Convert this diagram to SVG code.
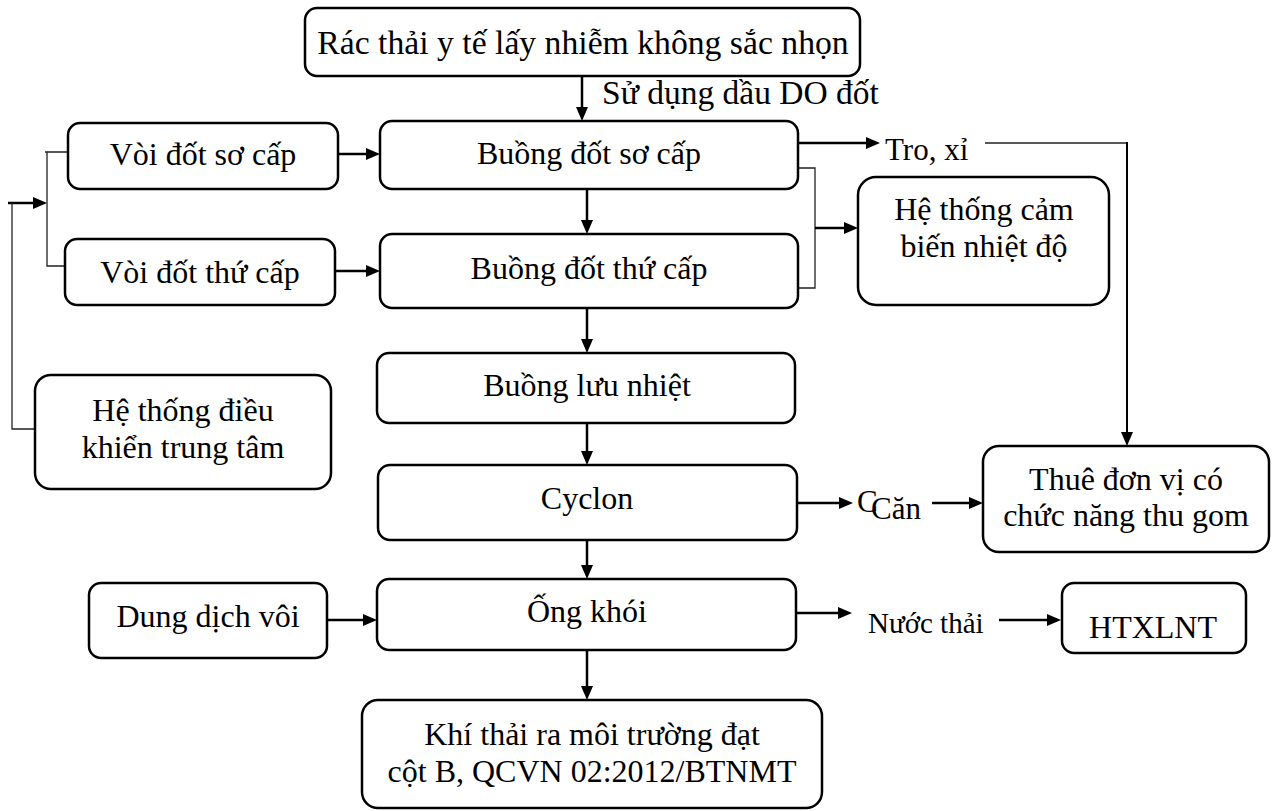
<svg xmlns="http://www.w3.org/2000/svg" width="1275" height="811" viewBox="0 0 1275 811">
<defs>
<marker id="ah" markerUnits="userSpaceOnUse" markerWidth="14" markerHeight="12" refX="2" refY="6" orient="auto">
<path d="M0,0 L14,6 L0,12 z" fill="#000"/>
</marker>
</defs>
<style>
.box{fill:#fff;stroke:#000;stroke-width:2.5}
.t{font-family:"Liberation Serif","Times New Roman",serif;font-size:32px;fill:#000;text-anchor:middle}
.l{font-family:"Liberation Serif","Times New Roman",serif;font-size:31px;fill:#000}
.c{fill:none;stroke:#000;stroke-width:2.5}
.a{fill:none;stroke:#000;stroke-width:2.5;marker-end:url(#ah)}
.thin{fill:none;stroke:#222;stroke-width:1.3}
</style>
<rect width="1275" height="811" fill="#fff"/>
<g id="connectors">
<path class="a" d="M582,76 V109"/>
<path class="a" d="M587,189 V222"/>
<path class="a" d="M587,308 V341"/>
<path class="a" d="M587,423 V453"/>
<path class="a" d="M587,540 V567"/>
<path class="a" d="M587,650 V688"/>
<path class="a" d="M338,154 H368"/>
<path class="a" d="M335,271 H368"/>
<path class="thin" d="M68,152 H45 M47,152 V266 H65"/>
<path class="a" d="M8,203 H35"/>
<path class="thin" d="M12,203 V429 H35"/>
<path class="a" d="M798,143 H868"/>
<path class="thin" d="M985,143 H1127"/>
<path class="a" d="M1127,142 V434" style="stroke-width:2"/>
<path class="thin" d="M798,168 H815 V288 H798"/>
<path class="a" d="M815,228 H846"/>
<path class="a" d="M797,503 H841"/>
<path class="a" d="M932,503 H971"/>
<path class="a" d="M327,620 H365"/>
<path class="a" d="M796,613 H840"/>
<path class="a" d="M999,620 H1049"/>
</g>
<g id="n-top"><rect class="box" x="305" y="8" width="555" height="68" rx="12"/><text class="t" x="583" y="54" style="font-size:33.7px">Rác thải y tế lấy nhiễm không sắc nhọn</text></g>
<g id="lbl-do"><text class="l" x="602" y="104" style="font-size:33.5px">Sử dụng dầu DO đốt</text></g>
<g id="n-voi1"><rect class="box" x="68" y="123" width="270" height="66" rx="12"/><text class="t" x="203" y="165">Vòi đốt sơ cấp</text></g>
<g id="n-voi2"><rect class="box" x="65" y="239" width="270" height="66" rx="12"/><text class="t" x="200" y="283">Vòi đốt thứ cấp</text></g>
<g id="n-dieukhien"><rect class="box" x="35" y="375" width="296" height="114" rx="16"/><text class="t" x="183" y="421">Hệ thống điều</text><text class="t" x="183" y="458">khiển trung tâm</text></g>
<g id="n-bd1"><rect class="box" x="380" y="121" width="418" height="68" rx="12"/><text class="t" x="589" y="164">Buồng đốt sơ cấp</text></g>
<g id="n-bd2"><rect class="box" x="380" y="234" width="418" height="74" rx="12"/><text class="t" x="589" y="279">Buồng đốt thứ cấp</text></g>
<g id="n-luu"><rect class="box" x="377" y="353" width="418" height="70" rx="12"/><text class="t" x="587" y="396">Buồng lưu nhiệt</text></g>
<g id="n-cyclon"><rect class="box" x="378" y="465" width="419" height="75" rx="12"/><text class="t" x="587" y="509">Cyclon</text></g>
<g id="n-ong"><rect class="box" x="377" y="579" width="419" height="71" rx="12"/><text class="t" x="587" y="622">Ống khói</text></g>
<g id="n-khi"><rect class="box" x="362" y="700" width="460" height="108" rx="16"/><text class="t" x="592" y="745">Khí thải ra môi trường đạt</text><text class="t" x="592" y="782">cột B, QCVN 02:2012/BTNMT</text></g>
<g id="n-dung"><rect class="box" x="89" y="583" width="238" height="75" rx="12"/><text class="t" x="208" y="627">Dung dịch vôi</text></g>
<g id="lbl-tro"><text class="l" x="885" y="160">Tro, xỉ</text></g>
<g id="n-sensor"><rect class="box" x="858" y="177" width="251" height="128" rx="18"/><text class="t" x="984" y="220">Hệ thống cảm</text><text class="t" x="984" y="257">biến nhiệt độ</text></g>
<g id="lbl-can"><text class="l" x="857" y="512">C</text><text class="l" x="871" y="519">Căn</text></g>
<g id="n-thue"><rect class="box" x="983" y="446" width="286" height="106" rx="16"/><text class="t" x="1126" y="490">Thuê đơn vị có</text><text class="t" x="1126" y="526">chức năng thu gom</text></g>
<g id="lbl-nuoc"><text class="l" x="868" y="633" style="font-size:29px">Nước thải</text></g>
<g id="n-ht"><rect class="box" x="1062" y="583" width="184" height="70" rx="12"/><text class="t" x="1153" y="638">HTXLNT</text></g>
</svg>
